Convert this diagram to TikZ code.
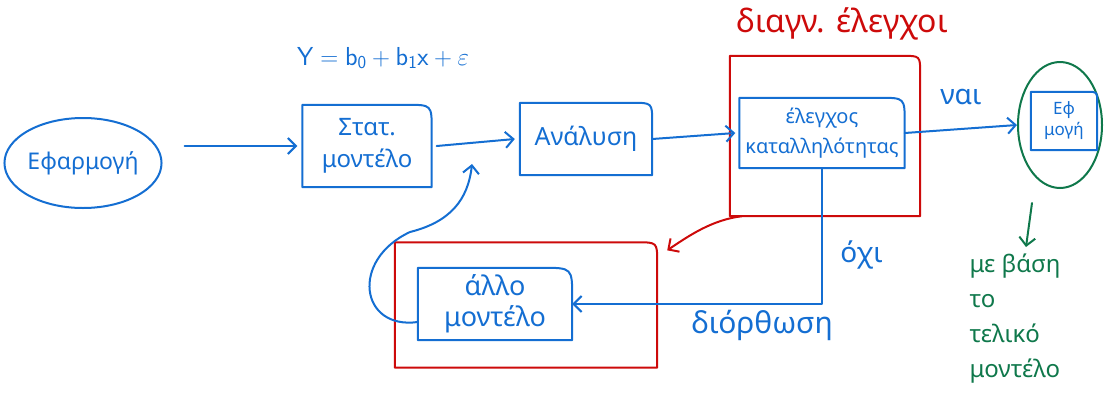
\documentclass[tikz,border=0pt]{standalone}
\usepackage{fontspec}
\setmainfont{Noto Sans}
\usetikzlibrary{arrows.meta,shapes.geometric}
\definecolor{pen}{RGB}{20,110,210}
\definecolor{redpen}{RGB}{205,10,10}
\definecolor{greenpen}{RGB}{15,120,75}
\tikzset{
  ink/.style={line width=2pt, line cap=round, line join=round},
  arr/.style={ink, -{Straight Barb[length=8pt,width=16pt,line width=2pt]}},
  boxnode/.style={inner sep=0pt, align=center, text=pen},
  bluetext/.style={text=pen},
}
\newcommand\myoutline[3]{%
  \draw[ink,#2] (#1.south west) -- (#1.north west) -- ([xshift=-#3]#1.north east)
    .. controls (#1.north east) .. ([yshift=-#3]#1.north east) -- (#1.south east) -- cycle;}
\begin{document}
\begin{tikzpicture}[x=1pt,y=-1pt]
\useasboundingbox (0,0) rectangle (1106,413);

% nodes
\node[ellipse, draw=pen, ink, minimum width=152pt, minimum height=90pt, inner sep=0pt, text=pen,
      font=\fontsize{23}{26}\selectfont] (app) at (83,163) {Εφαρμογή};

\node[bluetext, font=\fontsize{26}{30}\selectfont] (formula) at (383,58)
  {$\mathsf{Y = b_0 + b_1 x + \varepsilon}$};

\node[boxnode, minimum width=129pt, minimum height=82pt,
      font=\fontsize{24}{32}\selectfont] (stat) at (367,146) {Στατ.\\μοντέλο};
\myoutline{stat}{pen}{25pt}

\node[boxnode, minimum width=132pt, minimum height=72pt,
      font=\fontsize{25}{28}\selectfont] (anal) at (586,139) {Ανάλυση};
\myoutline{anal}{pen}{20pt}

\node[boxnode, minimum width=190pt, minimum height=160pt] (diag) at (825,136) {};
\myoutline{diag}{redpen}{18pt}
\node[text=redpen, font=\fontsize{32}{36}\selectfont] (diaglabel) at (842,24) {διαγν. έλεγχοι};

\node[boxnode, minimum width=165pt, minimum height=70pt,
      font=\fontsize{20}{30}\selectfont] (check) at (822,133) {έλεγχος\\καταλληλότητας};
\myoutline{check}{pen}{25pt}

\node[ellipse, draw=greenpen, ink, minimum width=84pt, minimum height=126pt] (final) at (1060,125) {};
\node[boxnode, minimum width=66pt, minimum height=58pt,
      font=\fontsize{17}{21}\selectfont] (finalbox) at (1064,121) {Εφ\\μογή};
\myoutline{finalbox}{pen}{10pt}

\node[boxnode, minimum width=262pt, minimum height=125pt] (red2) at (526,305) {};
\myoutline{red2}{redpen}{20pt}

\node[boxnode, minimum width=154pt, minimum height=72pt,
      font=\fontsize{27}{31}\selectfont] (other) at (495,304) {άλλο\\μοντέλο};
\myoutline{other}{pen}{30pt}

\node[text=greenpen, align=left, anchor=north west,
      font=\fontsize{24}{35}\selectfont] (basis) at (966,250)
  {με βάση\\το\\τελικό\\μοντέλο};

% connectors
\draw[arr, pen] ([xshift=22pt]app.east |- stat.west) -- ([xshift=-5pt]stat.west);
\draw[arr, pen] ([xshift=5pt]stat.east) -- ([xshift=-5pt]anal.west);
\draw[arr, pen] (anal.east) -- ([xshift=-4pt]check.west);
\draw[arr, pen] (check.east) -- node[above=20pt, bluetext, font=\fontsize{28}{32}\selectfont] (yes) {ναι} (final.west);
\draw[arr, greenpen] (final.south) ++(-28pt,-14pt) coordinate (gstart) -- ++(-6pt,-44pt) coordinate (gend);
\draw[arr, pen] (check.south) |- node[pos=0.32, right=14pt, bluetext, font=\fontsize{28}{32}\selectfont] (no) {όχι}
   node[pos=0.62, below=2pt, bluetext, font=\fontsize{30}{34}\selectfont] (fix) {διόρθωση} (other.east);
\draw[arr, redpen] ([xshift=12pt]diag.south west) .. controls (712,220) and (690,235) .. ([xshift=10pt,yshift=-8pt]red2.north east);
\coordinate (fb) at (472,164);
\draw[arr, pen] ([yshift=-18pt]other.west) .. controls (360,330) and (350,260) .. (410,232)
   .. controls (450,222) and (468,200) .. (fb);

\end{tikzpicture}
\end{document}
